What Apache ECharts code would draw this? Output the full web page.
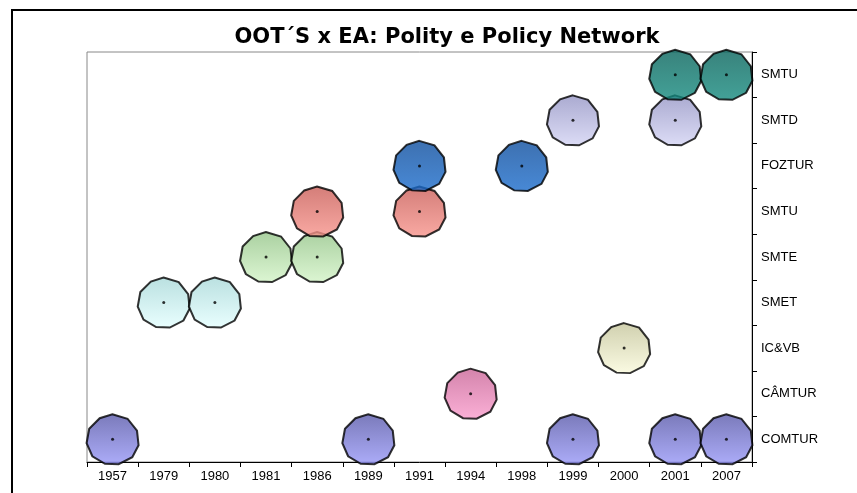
<!DOCTYPE html>
<html>
<head>
<meta charset="utf-8">
<script src="https://cdn.jsdelivr.net/npm/echarts@6/dist/echarts.min.js"></script>
<style>
html,body{margin:0;padding:0;background:#fff;}
#chart{width:857px;height:493px;}
</style>
</head>
<body>
<div id="chart"></div>
<script>
// Data
var years = ['1957','1979','1980','1981','1986','1989','1991','1994','1998','1999','2000','2001','2007'];
var rowLabels = ['COMTUR','CÂMTUR','IC&VB','SMET','SMTE','SMTU','FOZTUR','SMTD','SMTU'];
var comturYears = ['1957','1989','1999','2001','2007'];
var camturYears = ['1994'];
var icvbYears = ['2000'];
var smetYears = ['1979','1980'];
var smteYears = ['1981','1986'];
var smtuYears = ['1986','1991'];
var fozturYears = ['1991','1998'];
var smtdYears = ['1999','2001'];
var smtuTopYears = ['2001','2007'];

var rowsYears = [comturYears, camturYears, icvbYears, smetYears, smteYears, smtuYears, fozturYears, smtdYears, smtuTopYears];
var rowColors = [
  ['#5858a8','#9898f8'],
  ['#c86496','#fa9ccc'],
  ['#c4c49a','#fafadc'],
  ['#a8d8d8','#e4ffff'],
  ['#94c488','#d4f4c8'],
  ['#c85c56','#f8948c'],
  ['#0c4c9c','#1a6ccc'],
  ['#9494c4','#d4d4f4'],
  ['#06625a','#148a7e']
];

var decagon = 'path://M50,0L79,9L97,33L100,62L88,86L62,100L36,99L12,84L1,58L6,29L26,8Z';

var series = [];
var dots = [];
rowsYears.forEach(function(ys, r){
  var d = ys.map(function(y){ return [years.indexOf(y), r]; });
  d.forEach(function(p){ dots.push(p); });
  series.push({
    type: 'scatter',
    name: rowLabels[r] + r,
    data: d,
    symbol: decagon,
    symbolSize: [52, 50],
    itemStyle: {
      color: {type:'linear', x:0, y:0, x2:0, y2:1, colorStops:[{offset:0,color:rowColors[r][0]},{offset:1,color:rowColors[r][1]}]},
      borderColor: '#000',
      borderWidth: 2
    },
    z: 3
  });
});
series.push({
  type: 'scatter',
  data: dots,
  symbol: 'circle',
  symbolSize: 3,
  itemStyle: {color: '#000'},
  z: 4,
  silent: true
});

var chart = echarts.init(document.getElementById('chart'), null, {renderer:'canvas'});
chart.setOption({
  animation: false,
  backgroundColor: '#fff',
  title: {
    text: 'OOT\u00B4S x EA: Polity e Policy Network',
    left: 442, top: 22, textAlign: 'center',
    textStyle: {fontFamily: 'DejaVu Sans, sans-serif', fontSize: 21, fontWeight: 'bold', color: '#000'}
  },
  graphic: [{
    type: 'rect',
    shape: {x: 12, y: 10, width: 860, height: 500},
    style: {fill: 'none', stroke: '#000', lineWidth: 2},
    z: 0
  }],
  grid: {left: 87, right: 105, top: 52, bottom: 31, show: true, borderColor: '#888', borderWidth: 1},
  xAxis: {
    type: 'category',
    data: years,
    boundaryGap: true,
    axisLine: {show: true, lineStyle: {color: '#000', width: 1}},
    axisTick: {show: true, alignWithLabel: false, length: 5, lineStyle: {color: '#000'}},
    axisLabel: {fontFamily: 'Liberation Sans, Arial, sans-serif', fontSize: 13, color: '#000', margin: 8},
    splitLine: {show: false}
  },
  yAxis: {
    type: 'category',
    position: 'right',
    data: rowLabels,
    boundaryGap: true,
    axisLine: {show: true, lineStyle: {color: '#000', width: 1}},
    axisTick: {show: true, length: 5, lineStyle: {color: '#000'}},
    axisLabel: {fontFamily: 'Liberation Sans, Arial, sans-serif', fontSize: 13, color: '#000', margin: 9},
    splitLine: {show: false}
  },
  series: series
});
</script>
</body>
</html>
